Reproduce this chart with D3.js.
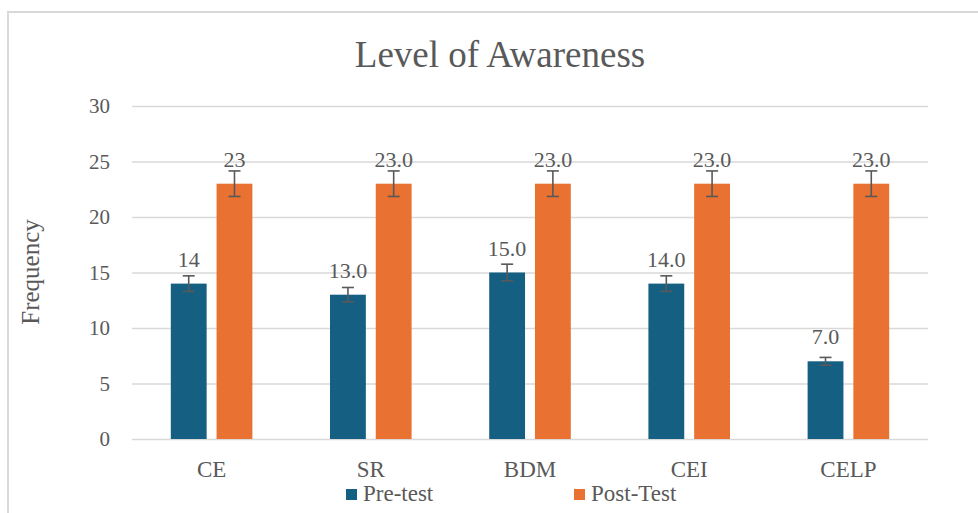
<!DOCTYPE html>
<html>
<head>
<meta charset="utf-8">
<script src="https://cdn.jsdelivr.net/npm/d3@7"></script>
<style>
  body { margin: 0; background: #fff; }
</style>
</head>
<body>
<svg width="978" height="513"></svg>
<script>
(function (d3) {
    'use strict';

    const categories = ['CE', 'SR', 'BDM', 'CEI', 'CELP'];
    const preTest = [14, 13, 15, 14, 7];
    const postTest = [23, 23, 23, 23, 23];
    const preLabels = ['14', '13.0', '15.0', '14.0', '7.0'];
    const postLabels = ['23', '23.0', '23.0', '23.0', '23.0'];
    const yTicks = [0, 5, 10, 15, 20, 25, 30];
    const seriesNames = ['Pre-test', 'Post-Test'];
    const errorPct = 0.05; // Excel percentage error bars

    const colors = ['#156082', '#E97132'];
    const font = '"Liberation Serif", "Times New Roman", serif';
    const textColor = '#595959';

    const svg = d3.select('svg');
    const margin = { top: 106, right: 50, bottom: 74, left: 132 };
    const width = +svg.attr('width');
    const height = +svg.attr('height');

    // chart frame (runs past the right and bottom edges)
    svg.append('rect')
        .attr('x', 8).attr('y', 12)
        .attr('width', 1000).attr('height', 600)
        .attr('fill', 'none')
        .attr('stroke', '#d9d9d9')
        .attr('stroke-width', 2);

    const xScale = d3.scaleBand()
        .domain(categories)
        .range([margin.left, width - margin.right]);

    const xInner = d3.scaleBand()
        .domain(seriesNames)
        .range([0, xScale.bandwidth()])
        .paddingInner(0.217)
        .paddingOuter(0.848);

    const yScale = d3.scaleLinear()
        .domain([0, 30])
        .range([height - margin.bottom, margin.top]);

    // gridlines + tick labels
    const yAxis = d3.axisLeft(yScale)
        .tickValues(yTicks)
        .tickSize(-(width - margin.left - margin.right))
        .tickPadding(22);
    const yg = svg.append('g')
        .attr('transform', `translate(${margin.left},0)`)
        .call(yAxis);
    yg.select('.domain').remove();
    yg.selectAll('.tick line').attr('stroke', '#d9d9d9').attr('stroke-width', 1.5);
    yg.selectAll('.tick text')
        .style('font-family', font)
        .style('font-size', '21px')
        .attr('fill', textColor);

    const xAxis = d3.axisBottom(xScale).tickSize(0).tickPadding(22);
    const xg = svg.append('g')
        .attr('transform', `translate(0,${yScale(0)})`)
        .call(xAxis);
    xg.select('.domain').remove();
    xg.selectAll('.tick text')
        .style('font-family', font)
        .style('font-size', '23px')
        .attr('fill', textColor);

    const series = [
        { name: seriesNames[0], values: preTest, labels: preLabels, color: colors[0] },
        { name: seriesNames[1], values: postTest, labels: postLabels, color: colors[1] }
    ];

    const rows = [];
    series.forEach(s => {
        categories.forEach((c, i) => {
            rows.push({ cat: c, name: s.name, value: s.values[i], label: s.labels[i], color: s.color });
        });
    });

    const bx = d => xScale(d.cat) + xInner(d.name);

    svg.append('g').selectAll('rect').data(rows)
        .enter().append('rect')
        .attr('x', bx)
        .attr('y', d => yScale(d.value))
        .attr('width', xInner.bandwidth())
        .attr('height', d => yScale(0) - yScale(d.value))
        .attr('fill', d => d.color);

    // error bars
    const eg = svg.append('g')
        .attr('stroke', textColor)
        .attr('stroke-width', 1.6)
        .attr('fill', 'none');
    rows.forEach(d => {
        const cx = bx(d) + xInner.bandwidth() / 2;
        const e = d.value * errorPct;
        const y1 = yScale(d.value + e), y2 = yScale(d.value - e);
        eg.append('line').attr('x1', cx).attr('x2', cx).attr('y1', y1).attr('y2', y2);
        eg.append('line').attr('x1', cx - 6).attr('x2', cx + 6).attr('y1', y1).attr('y2', y1);
        eg.append('line').attr('x1', cx - 6).attr('x2', cx + 6).attr('y1', y2).attr('y2', y2);
    });

    // data labels
    svg.append('g').selectAll('text').data(rows)
        .enter().append('text')
        .attr('x', d => bx(d) + xInner.bandwidth() / 2)
        .attr('y', d => yScale(d.value) - 17)
        .attr('text-anchor', 'middle')
        .style('font-family', font)
        .style('font-size', '22px')
        .attr('fill', textColor)
        .text(d => d.label);

    // title
    svg.append('text')
        .attr('x', 500)
        .attr('y', 67)
        .attr('text-anchor', 'middle')
        .style('font-family', font)
        .style('font-size', '37px')
        .attr('fill', textColor)
        .text('Level of Awareness');

    // y axis label
    svg.append('text')
        .attr('transform', 'translate(39,272) rotate(-90)')
        .attr('text-anchor', 'middle')
        .style('font-family', font)
        .style('font-size', '25px')
        .attr('fill', textColor)
        .text('Frequency');

    // legend
    const legendX = [346, 574];
    const lg = svg.append('g');
    series.forEach((s, i) => {
        lg.append('rect')
            .attr('x', legendX[i]).attr('y', 489)
            .attr('width', 11).attr('height', 11)
            .attr('fill', s.color);
        lg.append('text')
            .attr('x', legendX[i] + 17)
            .attr('y', 501)
            .style('font-family', font)
            .style('font-size', '23px')
            .attr('fill', textColor)
            .text(s.name);
    });
}(d3));
</script>
</body>
</html>
